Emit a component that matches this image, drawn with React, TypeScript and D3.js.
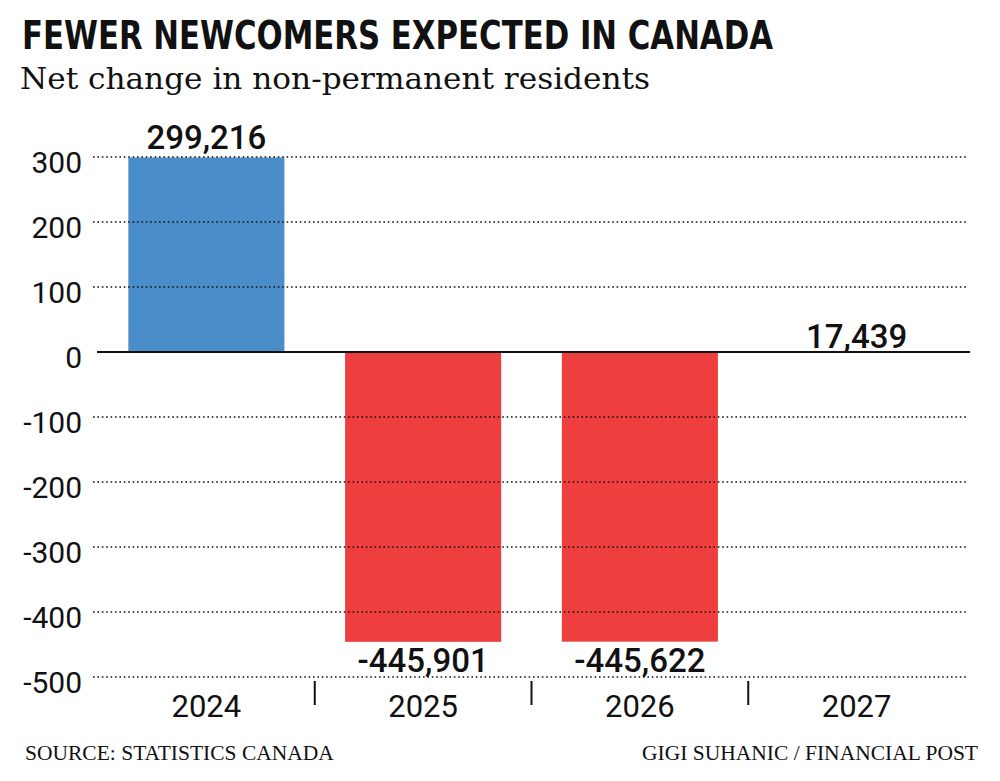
import React from "react";
import * as d3 from "d3";

const categories = ["2024", "2025", "2026", "2027"];
const values = [299216, -445901, -445622, 17439];
const barShown = [true, true, true, false];
const yTicks = [300, 200, 100, 0, -100, -200, -300, -400, -500];

const title = "FEWER NEWCOMERS EXPECTED IN CANADA";
const subtitle = "Net change in non-permanent residents";
const source = "SOURCE: STATISTICS CANADA";
const credit = "GIGI SUHANIC / FINANCIAL POST";

const BLUE = "#4a8dc9";
const RED = "#ef3e3e";
const SANS = "Roboto, 'Liberation Sans', Arial, sans-serif";

export default function App() {
  const W = 1000;
  const H = 781;
  const x = d3
    .scaleBand<string>()
    .domain(categories)
    .range([98, 965])
    .paddingInner(0.28)
    .paddingOuter(0.14);
  const y = d3.scaleLinear().domain([-500, 300]).range([677, 157]);
  const fmt = d3.format(",");
  const step = x.step();

  return (
    <>
      <style>{"body{margin:0}"}</style>
      <svg width={W} height={H} style={{ display: "block", background: "#fff" }}>
        <text
          x={22}
          y={49}
          fontFamily="'Liberation Sans Narrow', 'DejaVu Sans Condensed', sans-serif"
          fontWeight={700}
          fontSize={38.5}
          textLength={751}
          lengthAdjust="spacingAndGlyphs"
          fill="#111"
        >
          {title}
        </text>
        <text
          x={20}
          y={89}
          fontFamily="'DejaVu Serif', 'Liberation Serif', serif"
          fontSize={30.5}
          textLength={630}
          lengthAdjust="spacingAndGlyphs"
          fill="#111"
        >
          {subtitle}
        </text>

        {/* bars */}
        {categories.map((c, i) =>
          barShown[i] ? (
            <rect
              key={c}
              x={x(c)}
              width={x.bandwidth()}
              y={y(Math.max(0, values[i] / 1000))}
              height={Math.abs(y(values[i] / 1000) - y(0))}
              fill={values[i] >= 0 ? BLUE : RED}
            />
          ) : null
        )}

        {/* gridlines */}
        {yTicks
          .filter((t) => t !== 0)
          .map((t) => (
            <line
              key={t}
              x1={93}
              x2={968}
              y1={y(t)}
              y2={y(t)}
              stroke="#111"
              strokeWidth={1.6}
              strokeDasharray="1.6 2.8"
            />
          ))}
        <line x1={97} x2={970} y1={y(0)} y2={y(0)} stroke="#111" strokeWidth={2} />

        {/* y labels */}
        {yTicks.map((t) => (
          <text
            key={t}
            x={82}
            y={y(t) + 15.5}
            textAnchor="end"
            fontFamily={SANS}
            fontSize={30}
            fill="#111"
          >
            {t}
          </text>
        ))}

        {/* category separators */}
        {categories.slice(1).map((c) => (
          <line
            key={c}
            x1={(x(c) as number) - (step * 0.28) / 2}
            x2={(x(c) as number) - (step * 0.28) / 2}
            y1={681}
            y2={705}
            stroke="#111"
            strokeWidth={2}
          />
        ))}

        {/* x labels */}
        {categories.map((c) => (
          <text
            key={c}
            x={(x(c) as number) + x.bandwidth() / 2}
            y={717}
            textAnchor="middle"
            fontFamily={SANS}
            fontSize={31}
            fill="#111"
          >
            {c}
          </text>
        ))}

        {/* value labels */}
        {categories.map((c, i) => {
          const v = values[i];
          const cx = (x(c) as number) + x.bandwidth() / 2;
          let ly: number;
          if (!barShown[i]) ly = y(0) - 4;
          else if (v >= 0) ly = y(v / 1000) - 9;
          else ly = y(v / 1000) + 30;
          return (
            <text
              key={c}
              x={cx}
              y={ly}
              textAnchor="middle"
              fontFamily={SANS}
              fontWeight={500}
              fontSize={33}
              fill="#111"
            >
              {fmt(v).replace("−", "-")}
            </text>
          );
        })}

        {/* footer */}
        <text x={25} y={760} fontFamily="'Liberation Serif', serif" fontSize={21.5} fill="#111">
          {source}
        </text>
        <text
          x={978}
          y={760}
          textAnchor="end"
          fontFamily="'Liberation Serif', serif"
          fontSize={21.5}
          fill="#111"
        >
          {credit}
        </text>
      </svg>
    </>
  );
}
